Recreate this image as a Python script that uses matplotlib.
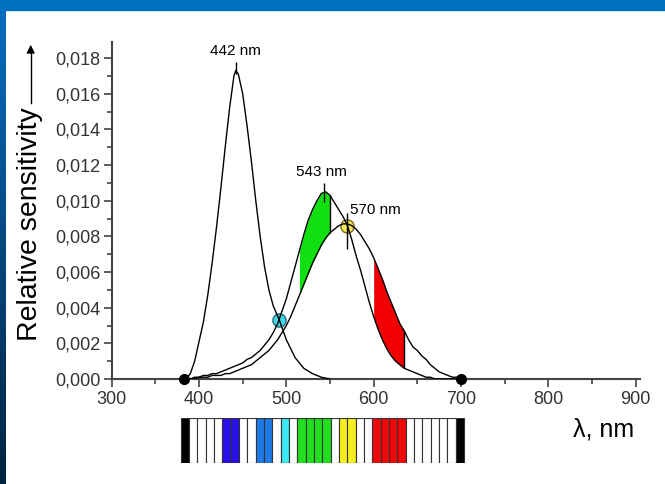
import numpy as np
import matplotlib.pyplot as plt
from matplotlib.patches import Rectangle
from matplotlib.colors import LinearSegmentedColormap
from matplotlib.ticker import MultipleLocator, FuncFormatter

plt.rcParams['font.family'] = ['Liberation Sans', 'DejaVu Sans']

# S cone (blue) sensitivity
wl_s = [385, 390, 395, 400, 405, 410, 415, 420, 425, 430, 435, 440, 442, 445, 450,
        455, 460, 465, 470, 475, 480, 485, 492, 500, 510, 520, 530, 540, 550]
sens_s = [0.0000, 0.0003, 0.0010, 0.0021, 0.0032, 0.0047, 0.0065, 0.0085, 0.0107,
          0.0130, 0.0152, 0.0170, 0.0173, 0.0171, 0.0160, 0.0142, 0.0122, 0.0100,
          0.0080, 0.0063, 0.0050, 0.0041, 0.0033, 0.0022, 0.0012, 0.0006, 0.0003,
          0.0001, 0.0000]

# M and L cones, common wavelength grid
wl = np.arange(390, 705, 5)
sens_m = [0.0000, 0.0001, 0.0001, 0.0002, 0.0002, 0.0003, 0.0003, 0.0004, 0.0005,
          0.0006, 0.0007, 0.0008, 0.0009, 0.0011, 0.0012, 0.0014, 0.0016, 0.0019,
          0.0022, 0.0026, 0.0031, 0.0038, 0.0045, 0.0054, 0.0063, 0.0072, 0.0081,
          0.0089, 0.0095, 0.0100, 0.0104, 0.0105, 0.0103, 0.0099, 0.0095, 0.0091,
          0.0086, 0.0078, 0.0069, 0.0061, 0.0052, 0.0043, 0.0035, 0.0028, 0.0022,
          0.0017, 0.0013, 0.0010, 0.0008, 0.0006, 0.0005, 0.0004, 0.0003, 0.0002,
          0.0001, 0.0001, 0.0000, 0.0000, 0.0000, 0.0000, 0.0000, 0.0000, 0.0000]
sens_l = [0.0000, 0.0000, 0.0001, 0.0001, 0.0001, 0.0002, 0.0002, 0.0002, 0.0003,
          0.0003, 0.0004, 0.0005, 0.0006, 0.0007, 0.0008, 0.0010, 0.0012, 0.0014,
          0.0016, 0.0019, 0.0022, 0.0026, 0.0030, 0.0035, 0.0041, 0.0047, 0.0053,
          0.0059, 0.0065, 0.0070, 0.0075, 0.0079, 0.0082, 0.0084, 0.0086, 0.0087,
          0.0087, 0.0086, 0.0084, 0.0081, 0.0077, 0.0073, 0.0068, 0.0062, 0.0056,
          0.0049, 0.0043, 0.0037, 0.0031, 0.0027, 0.0022, 0.0018, 0.0016, 0.0013,
          0.0011, 0.0008, 0.0006, 0.0004, 0.0003, 0.0002, 0.0001, 0.0001, 0.0000]
sens_m = np.array(sens_m)
sens_l = np.array(sens_l)

peaks_nm = [442, 543, 570]
peak_labels = ['442 nm', '543 nm', '570 nm']
cross_nm = [491.8, 569.5]
cross_val = [0.0033, 0.0086]
ends_nm = [383, 700]

green_band = (515, 550)
red_band = (600, 635)

stripe_colors = (['#000000'] + ['#ffffff'] * 4 + ['#2a10e8'] * 2 + ['#ffffff'] * 2
                 + ['#1e78e6'] * 2 + ['#ffffff'] + ['#3ce8f2'] + ['#ffffff']
                 + ['#22e01e'] * 4 + ['#ffffff'] + ['#f6ee1e'] * 2 + ['#ffffff'] * 2
                 + ['#ee0a0a'] * 4 + ['#ffffff'] * 6 + ['#000000'])

W, H = 665, 484
fig = plt.figure(figsize=(W / 100, H / 100), dpi=100, facecolor='white')

# blue frame
fig.add_artist(Rectangle((0, 1 - 10 / H), 1, 10 / H, transform=fig.transFigure,
                         color='#0070c0', zorder=0))
bg = fig.add_axes([0, 0, 6 / W, 1 - 10 / H])
grad = np.linspace(0, 1, 256).reshape(-1, 1)
cm = LinearSegmentedColormap.from_list('edge', ['#0a6cc0', '#00233f'])
bg.imshow(grad, aspect='auto', cmap=cm, extent=[0, 1, 0, 1])
bg.set_axis_off()

x0, x1 = 111.7, 640
y0, y1 = 379, 42
ax = fig.add_axes([x0 / W, 1 - y0 / H, (x1 - x0) / W, (y0 - y1) / H])
ax.set_xlim(300, 905)
ax.set_ylim(0, 0.0189)
ax.patch.set_alpha(0)

ax.fill_between(wl, sens_m, sens_l, where=(wl >= green_band[0]) & (wl <= green_band[1]),
                color='#10e010', lw=0, zorder=1)
ax.fill_between(wl, sens_l, sens_m, where=(wl >= red_band[0]) & (wl <= red_band[1]),
                color='#f00000', lw=0, zorder=1)
for b in (green_band[1], red_band[1]):
    i = int(np.where(wl == b)[0][0])
    ax.vlines(b, min(sens_m[i], sens_l[i]), max(sens_m[i], sens_l[i]),
              color='black', lw=1, zorder=3)

ax.plot(wl_s, sens_s, color='black', lw=1, zorder=3)
ax.plot(wl, sens_m, color='black', lw=1, zorder=3)
ax.plot(wl, sens_l, color='black', lw=1, zorder=3)

ax.plot(cross_nm[0], cross_val[0], 'o', ms=9.5, mfc='#40d8e8', mec='#2a6a80', mew=1, zorder=2)
ax.plot(cross_nm[1], cross_val[1], 'o', ms=9.5, mfc='#f4e458', mec='#806a20', mew=1, zorder=2)
ax.plot(ends_nm, [0, 0], 'o', ms=7, color='black', zorder=5, clip_on=False)

# peak markers
ax.vlines(peaks_nm[0], 0.0171, 0.0178, color='black', lw=1, zorder=3)
ax.vlines(peaks_nm[1], 0.0099, 0.0110, color='black', lw=1, zorder=3)
ax.vlines(peaks_nm[2], 0.0073, 0.0093, color='black', lw=1, zorder=3)
ax.text(peaks_nm[0], 0.0184, peak_labels[0], ha='center', va='center', fontsize=11)
ax.text(peaks_nm[1] - 3, 0.0116, peak_labels[1], ha='center', va='center', fontsize=11)
ax.text(peaks_nm[2] + 3, 0.0095, peak_labels[2], ha='left', va='center', fontsize=11)

for s in ('top', 'right'):
    ax.spines[s].set_visible(False)
for s in ('left', 'bottom'):
    ax.spines[s].set_color('#444444')
    ax.spines[s].set_linewidth(1.5)
ax.xaxis.set_minor_locator(MultipleLocator(50))
ax.yaxis.set_minor_locator(MultipleLocator(0.001))
ax.set_yticks(np.arange(0, 0.0181, 0.002))
ax.set_xticks(np.arange(300, 901, 100))
ax.yaxis.set_major_formatter(FuncFormatter(lambda v, p: f"{v:.3f}".replace('.', ',')))
ax.tick_params(which='major', direction='out', length=6, width=1.2, color='#444444',
               labelsize=13, labelcolor='#333333')
ax.tick_params(which='minor', direction='out', length=3.5, width=1.2, color='#444444')
ax.tick_params(axis='x', pad=3)
ax.tick_params(axis='y', pad=2)

fig.text(30 / W, 1 - 224 / H, 'Relative sensitivity', rotation=90, ha='center',
         va='center', fontsize=20.5)
fig.add_artist(plt.Line2D([30.7 / W, 30.7 / W], [1 - 103 / H, 1 - 50 / H],
                          transform=fig.transFigure, color='black', lw=1))
ax.annotate('', xy=(30.7 / W, 1 - 42 / H), xytext=(30.7 / W, 1 - 55 / H),
            xycoords='figure fraction', textcoords='figure fraction',
            arrowprops=dict(arrowstyle='-|>', color='black', lw=1, mutation_scale=12))
fig.text(604 / W, 1 - 430 / H, 'λ, nm', ha='center', va='center', fontsize=18)

# spectrum strip
ax2 = fig.add_axes([x0 / W, 1 - 463 / H, (x1 - x0) / W, 45 / H])
ax2.set_xlim(300, 905)
ax2.set_ylim(0, 1)
edges = np.linspace(379, 703.4, len(stripe_colors) + 1)
ax2.bar(edges[:-1], 1, width=np.diff(edges), align='edge', color=stripe_colors,
        edgecolor='#333333', linewidth=0.8)
ax2.set_axis_off()

fig.savefig('out.png', dpi=100, facecolor='white')
